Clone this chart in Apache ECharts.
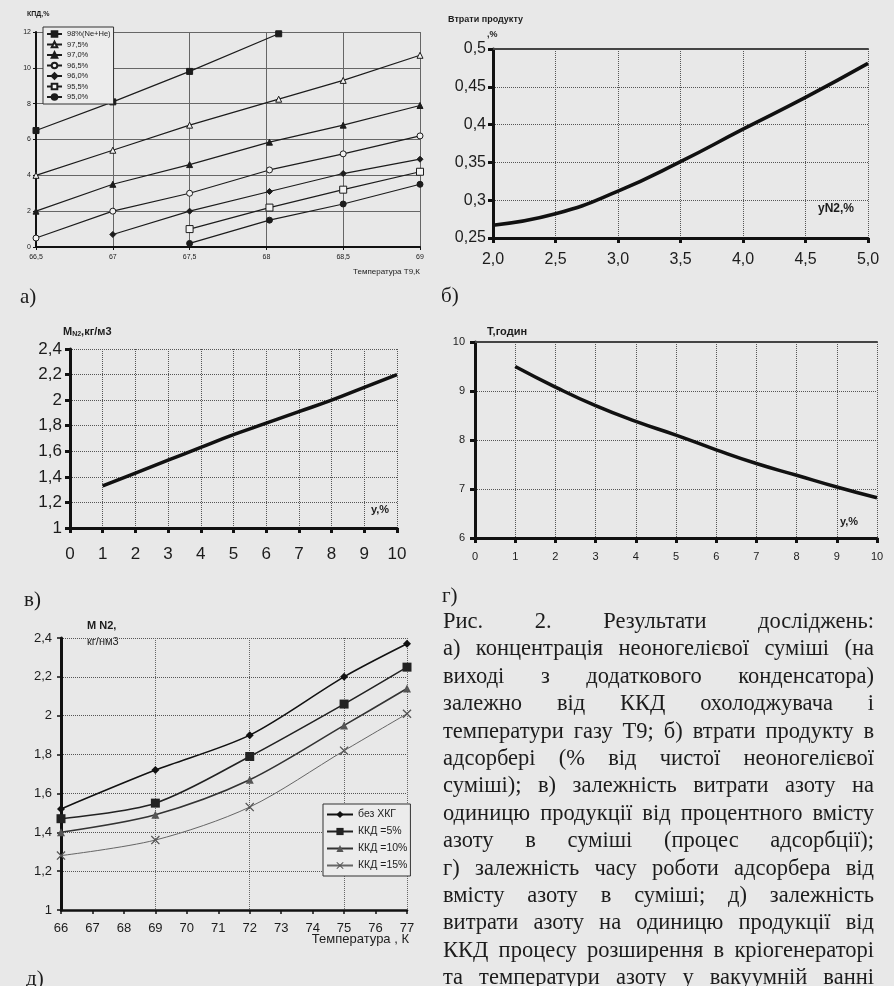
<!DOCTYPE html>
<html>
<head>
<meta charset="utf-8">
<script src="https://cdn.jsdelivr.net/npm/echarts@6/dist/echarts.min.js"></script>
<style>
  html, body { margin: 0; padding: 0; background: #e8e8e8; }
  #chart { width: 894px; height: 986px; }
</style>
</head>
<body>
<div id="chart"></div>
<script>
// а) КПД охолоджувача vs температура T9  ([T9, КПД] pairs)
const kpd98 = [[66.5, 6.5], [67, 8.1], [67.5, 9.8], [68.08, 11.9]];
const kpd975 = [[66.5, 4.0], [67, 5.4], [67.5, 6.8], [68.08, 8.25], [68.5, 9.3], [69, 10.7]];
const kpd970 = [[66.5, 2.0], [67, 3.5], [67.5, 4.6], [68.02, 5.85], [68.5, 6.8], [69, 7.9]];
const kpd965 = [[66.5, 0.5], [67, 2.0], [67.5, 3.0], [68.02, 4.3], [68.5, 5.2], [69, 6.2]];
const kpd960 = [[67, 0.7], [67.5, 2.0], [68.02, 3.1], [68.5, 4.1], [69, 4.9]];
const kpd955 = [[67.5, 1.0], [68.02, 2.2], [68.5, 3.2], [69, 4.2]];
const kpd950 = [[67.5, 0.2], [68.02, 1.5], [68.5, 2.4], [69, 3.5]];
const namesA = ["98%(Ne+He)", "97,5%", "97,0%", "96,5%", "96,0%", "95,5%", "95,0%"];

// б) втрати продукту vs yN2
const yN2 = [2.0, 2.5, 3.0, 3.5, 4.0, 4.5, 5.0];
const lossB = [0.267, 0.282, 0.312, 0.351, 0.394, 0.436, 0.481];

// в) витрата азоту vs y ; г) час роботи vs y
const yPct = [1, 2, 3, 4, 5, 6, 7, 8, 9, 10];
const mN2 = [1.33, 1.43, 1.53, 1.63, 1.73, 1.82, 1.91, 2.0, 2.1, 2.2];
const hoursG = [9.5, 9.08, 8.7, 8.38, 8.1, 7.8, 7.52, 7.28, 7.04, 6.82];

// д) витрата азоту vs температура
const tempD = [66, 69, 72, 75, 77];
const noKhkg = [1.52, 1.72, 1.90, 2.20, 2.37];
const kkd5 = [1.47, 1.55, 1.79, 2.06, 2.25];
const kkd10 = [1.40, 1.49, 1.67, 1.95, 2.14];
const kkd15 = [1.28, 1.36, 1.53, 1.82, 2.01];
const namesD = ["без ХКГ", "ККД =5%", "ККД =10%", "ККД =15%"];

const captionLines = [
  "Рис. 2. Результати досліджень:",
  "а) концентрація неоногелієвої суміші (на",
  "виході з додаткового конденсатора)",
  "залежно від ККД охолоджувача і",
  "температури газу Т9; б) втрати продукту в",
  "адсорбері (% від чистої неоногелієвої",
  "суміші); в) залежність витрати азоту на",
  "одиницю продукції від процентного вмісту",
  "азоту в суміші (процес адсорбції);",
  "г) залежність часу роботи адсорбера від",
  "вмісту азоту в суміші; д) залежність",
  "витрати азоту на одиницю продукції від",
  "ККД процесу розширення в кріогенераторі",
  "та температури азоту у вакуумній ванні"
];

const ink = "#1c1c1c";
const sans = "Liberation Sans";
const serif = "Liberation Serif";
const comma = (v, d) => (d == null ? String(parseFloat(v.toFixed(3))) : v.toFixed(d)).replace(".", ",");
const zip = (xs, ys) => xs.map((x, i) => [x, ys[i]]);

const myChart = echarts.init(document.getElementById("chart"));

// thick-axis style used by б, в, г
function heavyX(grid, min, max, interval, fontSize, margin, digits) {
  return {
    type: "value", gridIndex: grid, min, max, interval,
    axisLine: { lineStyle: { color: "#111", width: 3 } },
    axisTick: { show: true, length: 5, lineStyle: { color: "#111", width: 3 } },
    axisLabel: { fontSize, margin, color: ink, fontFamily: sans, formatter: (v) => comma(v, digits) },
    splitLine: { show: true, lineStyle: { color: "#555", type: "dotted", width: 1 } }
  };
}
function heavyY(grid, min, max, interval, fontSize, margin) {
  return {
    type: "value", gridIndex: grid, min, max, interval,
    axisLine: { show: true, lineStyle: { color: "#111", width: 3 } },
    axisTick: { show: true, length: 5, lineStyle: { color: "#111", width: 3 } },
    axisLabel: { fontSize, margin, color: ink, fontFamily: sans, formatter: (v) => comma(v) },
    splitLine: { show: true, lineStyle: { color: "#555", type: "dotted", width: 1 } }
  };
}
function topBorder(grid) {
  return {
    type: "value", gridIndex: grid, position: "top",
    axisLine: { show: true, lineStyle: { color: "#444", width: 2 } },
    axisTick: { show: false }, axisLabel: { show: false }, splitLine: { show: false }
  };
}

const xAxis = [
  {
    type: "value", gridIndex: 0, min: 66.5, max: 69, interval: 0.5,
    axisLine: { lineStyle: { color: "#111", width: 2 } },
    axisTick: { show: true, length: 3, lineStyle: { color: "#111" } },
    axisLabel: { fontSize: 7, margin: 7, color: ink, fontFamily: sans, formatter: (v) => comma(v) },
    splitLine: { show: true, lineStyle: { color: "#666", width: 1 } }
  },
  heavyX(1, 2, 5, 0.5, 16, 14, 1),
  topBorder(1),
  heavyX(2, 0, 10, 1, 17, 18),
  heavyX(3, 0, 10, 1, 11, 13),
  topBorder(3),
  {
    type: "value", gridIndex: 4, min: 66, max: 77, interval: 1,
    axisLine: { lineStyle: { color: "#111", width: 2.5 } },
    axisTick: { show: true, length: 4, lineStyle: { color: "#111", width: 1.5 } },
    axisLabel: { fontSize: 13, margin: 12, color: ink, fontFamily: sans },
    splitLine: { show: false }
  },
  {
    type: "value", gridIndex: 4, min: 66, max: 77, interval: 3, position: "bottom",
    axisLine: { show: false }, axisTick: { show: false }, axisLabel: { show: false },
    splitLine: { show: true, lineStyle: { color: "#666", type: "dotted", width: 1 } }
  }
];

const yAxis = [
  {
    type: "value", gridIndex: 0, min: 0, max: 12, interval: 2,
    axisLine: { show: true, lineStyle: { color: "#111", width: 2 } },
    axisTick: { show: true, length: 3, lineStyle: { color: "#111" } },
    axisLabel: { fontSize: 7, margin: 5, color: ink, fontFamily: sans },
    splitLine: { show: true, lineStyle: { color: "#666", width: 1 } }
  },
  heavyY(1, 0.25, 0.5, 0.05, 16, 7),
  heavyY(2, 1, 2.4, 0.2, 17, 8),
  heavyY(3, 6, 10, 1, 11, 10),
  {
    type: "value", gridIndex: 4, min: 1, max: 2.4, interval: 0.2,
    axisLine: { show: true, lineStyle: { color: "#111", width: 3 } },
    axisTick: { show: true, length: 4, lineStyle: { color: "#111", width: 1.5 } },
    axisLabel: { fontSize: 13, margin: 9, color: ink, fontFamily: sans, formatter: (v) => comma(v) },
    splitLine: { show: true, lineStyle: { color: "#555", type: "dotted", width: 1 } }
  }
];

const open = "#f2f2f2";
const markerA = [
  { symbol: "rect", size: 6, fill: ink },
  { symbol: "triangle", size: 6, fill: open },
  { symbol: "triangle", size: 6, fill: ink },
  { symbol: "circle", size: 6, fill: open },
  { symbol: "diamond", size: 6, fill: ink },
  { symbol: "rect", size: 7, fill: open },
  { symbol: "circle", size: 6, fill: ink }
];
const dataA = [kpd98, kpd975, kpd970, kpd965, kpd960, kpd955, kpd950];

const series = dataA.map((d, i) => ({
  name: namesA[i], type: "line", xAxisIndex: 0, yAxisIndex: 0, data: d,
  symbol: markerA[i].symbol, symbolSize: markerA[i].size,
  lineStyle: { color: ink, width: 1.2 },
  itemStyle: { color: markerA[i].fill, borderColor: ink, borderWidth: 1 }
}));

const heavyLine = { color: "#111", width: 3.5 };
series.push(
  { type: "line", xAxisIndex: 1, yAxisIndex: 1, data: zip(yN2, lossB), smooth: true, symbol: "none", lineStyle: heavyLine },
  { type: "line", xAxisIndex: 3, yAxisIndex: 2, data: zip(yPct, mN2), smooth: true, symbol: "none", lineStyle: heavyLine },
  { type: "line", xAxisIndex: 4, yAxisIndex: 3, data: zip(yPct, hoursG), smooth: true, symbol: "none", lineStyle: heavyLine }
);

const crossPath = "path://M0,1L1,0L5,4L9,0L10,1L6,5L10,9L9,10L5,6L1,10L0,9L4,5Z";
const styleD = [
  { symbol: "diamond", size: 8, color: "#111", width: 1.6 },
  { symbol: "rect", size: 9, color: "#222", width: 1.6 },
  { symbol: "triangle", size: 8, color: "#555", width: 1.6, line: "#333" },
  { symbol: crossPath, size: 9, color: "#555", width: 1, line: "#666" }
];
[noKhkg, kkd5, kkd10, kkd15].forEach((d, i) => {
  const s = styleD[i];
  series.push({
    name: namesD[i], type: "line", xAxisIndex: 6, yAxisIndex: 4, data: zip(tempD, d),
    smooth: 0.3, symbol: s.symbol, symbolSize: s.size,
    lineStyle: { color: s.line || s.color, width: s.width },
    itemStyle: { color: s.color }
  });
});

const graphic = [];
function label(text, x, y, size, bold, family, align) {
  graphic.push({
    type: "text", x, y,
    style: {
      text, fill: ink, align: align || "left", verticalAlign: "middle",
      font: (bold ? "bold " : "") + size + "px \"" + (family || sans) + "\""
    }
  });
}
// chart titles / axis names
label("КПД,%", 27, 14, 7, true);
label("Температура Т9,К", 420, 272, 8, false, sans, "right");
label("Втрати продукту", 448, 20, 9, true);
label(",%", 487, 35, 9, true);
label("yN2,%", 818, 209, 12, true);
graphic.push({
  type: "text", x: 63, y: 332,
  style: {
    text: "{m|M}{s|N2}{m|,кг/м3}", fill: ink, verticalAlign: "middle",
    rich: {
      m: { font: "bold 11px \"" + sans + "\"", fill: ink },
      s: { font: "bold 7px \"" + sans + "\"", fill: ink, padding: [5, 0, 0, 0] }
    }
  }
});
label("y,%", 371, 510, 11, true);
label("Т,годин", 487, 332, 11, true);
label("y,%", 840, 522, 11, true);
label("M N2,", 87, 626, 11, true);
label("кг/нм3", 87, 642, 11, false);
label("Температура , К", 409, 939, 13, false, sans, "right");
// panel letters
label("а)", 20, 297, 21, false, serif);
label("б)", 441, 296, 21, false, serif);
label("в)", 24, 600, 21, false, serif);
label("г)", 442, 596, 21, false, serif);
label("д)", 26, 979, 21, false, serif);

// justified caption
const capFont = "22.5px \"" + serif + "\"";
const ctx = document.createElement("canvas").getContext("2d");
ctx.font = capFont;
const capLeft = 443, capWidth = 431;
captionLines.forEach((line, i) => {
  const words = line.split(" ");
  const widths = words.map((w) => ctx.measureText(w).width);
  const total = widths.reduce((a, b) => a + b, 0);
  const gap = Math.max(4, (capWidth - total) / (words.length - 1));
  let x = capLeft;
  const y = 622 + i * 27.4;
  words.forEach((w, j) => {
    graphic.push({ type: "text", x, y, style: { text: w, font: capFont, fill: ink, verticalAlign: "middle" } });
    x += widths[j] + gap;
  });
});

const option = {
  backgroundColor: "#e8e8e8",
  animation: false,
  grid: [
    { left: 36, top: 32, width: 384, height: 215 },
    { left: 493, top: 49, width: 375, height: 189 },
    { left: 70, top: 349, width: 327, height: 179 },
    { left: 475, top: 342, width: 402, height: 196 },
    { left: 61, top: 638, width: 346, height: 272 }
  ],
  legend: [
    {
      data: namesA, orient: "vertical", left: 43, top: 27, selectedMode: false,
      backgroundColor: "#ececec", borderColor: "#333", borderWidth: 1,
      padding: [3, 3], itemGap: 2.5, itemWidth: 15, itemHeight: 7,
      textStyle: { fontSize: 7.5, color: ink, fontFamily: sans }
    },
    {
      data: namesD, orient: "vertical", left: 323, top: 804, selectedMode: false,
      backgroundColor: "#ececec", borderColor: "#333", borderWidth: 1,
      padding: [5, 3], itemGap: 6, itemWidth: 26, itemHeight: 9,
      textStyle: { fontSize: 10.5, color: ink, fontFamily: sans }
    }
  ],
  xAxis,
  yAxis,
  series,
  graphic: { elements: graphic }
};

myChart.setOption(option);
</script>
</body>
</html>
